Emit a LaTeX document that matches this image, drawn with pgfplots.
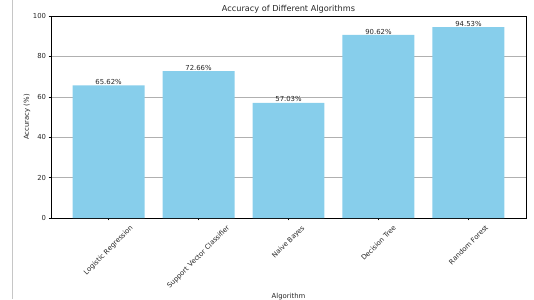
\documentclass[border=0pt]{standalone}
\usepackage{fontspec}
\setmainfont{DejaVu Sans}
\usepackage{graphicx}
\usepackage{pgfplots}
\pgfplotsset{compat=1.18}
\definecolor{skyblue}{HTML}{87CEEB}
\definecolor{gridgray}{HTML}{B0B0B0}
\definecolor{txt}{HTML}{262626}
\begin{document}
\begin{tikzpicture}[x=1bp,y=1bp]
\useasboundingbox (0,0) rectangle (534,299);
\draw[color=gray!45, line width=0.8bp] (12.5,0) -- (12.5,299);
\begin{axis}[
  at={(51bp,81bp)}, anchor=south west,
  scale only axis, width=475bp, height=202bp,
  xmin=-0.64, xmax=4.64, ymin=0, ymax=100,
  ytick={0,20,40,60,80,100},
  xtick={0,1,2,3,4},
  xticklabels={{\rotatebox{45}{Logistic Regression}},{\rotatebox{45}{Support Vector Classifier}},{\rotatebox{45}{Naive Bayes}},{\rotatebox{45}{Decision Tree}},{\rotatebox{45}{Random Forest}}},
  xticklabel style={anchor=north, inner sep=0pt, yshift=-4.2bp},
  yticklabel style={anchor=east, inner sep=0pt, xshift=-2.4bp},
  tick align=outside, tick pos=left,
  major tick length=2.4bp,
  tick style={line width=0.55bp, black},
  axis line style={line width=0.55bp, black},
  ymajorgrids, grid style={line width=0.55bp, gridgray},
  /pgf/number format/assume math mode=true,
  tick label style={font=\fontsize{6.9}{8}\selectfont, text=txt},
  label style={font=\fontsize{6.9}{8}\selectfont, text=txt},
  title style={font=\fontsize{8.2}{9.5}\selectfont, text=txt, at={(axis description cs:0.5,1)}, anchor=base, inner sep=0pt, yshift=-1bp},
  title={Accuracy of Different Algorithms},
  xlabel={Algorithm},
  ylabel={Accuracy (\%)},
  ylabel style={at={(axis description cs:-0.0505,0.5)}, anchor=center, rotate=0},
  xlabel style={at={(axis description cs:0.5,0)}, anchor=north, yshift=-72bp},
  ybar, bar width=0.8, bar shift=0pt,
  nodes near coords={\pgfmathprintnumber[fixed,precision=2,fixed zerofill]{\pgfplotspointmeta}\%},
  nodes near coords style={font=\fontsize{6.9}{8}\selectfont, text=txt, anchor=south, inner sep=0.6bp},
]
\addplot[fill=skyblue, draw=none] coordinates {(0,65.62) (1,72.66) (2,57.03) (3,90.62) (4,94.53)};
\end{axis}
\end{tikzpicture}
\end{document}
